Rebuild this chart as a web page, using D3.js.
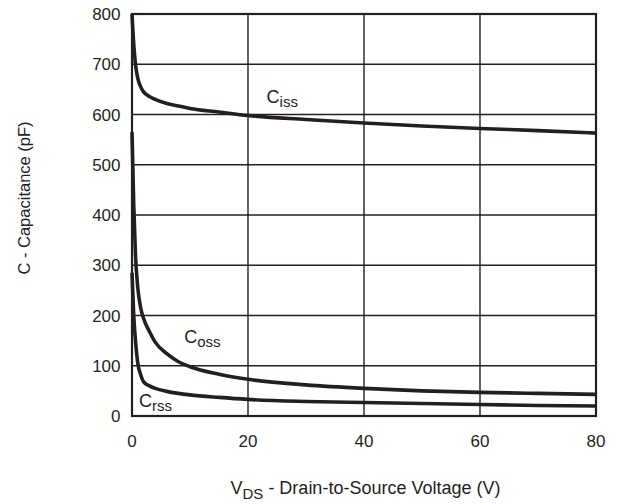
<!DOCTYPE html>
<html>
<head>
<meta charset="utf-8">
<script src="https://cdn.jsdelivr.net/npm/d3@7"></script>
<style>
  body { margin: 0; background: #fff; }
  text { font-family: "Liberation Sans", Arial, sans-serif; fill: #231f20; }
</style>
</head>
<body>
<svg id="chart" width="622" height="504"></svg>
<script>
// data
const vds = [0, 0.3, 0.6, 1, 1.5, 2, 3, 4, 6, 8, 10, 15, 20, 30, 40, 50, 60, 70, 80];
const ciss = [800, 740, 700, 672, 655, 645, 636, 630, 622, 617, 612, 605, 598, 590, 583, 577, 572, 568, 563];
const coss = [565, 420, 320, 255, 215, 194, 168, 147, 124, 108, 98, 83, 73, 62, 55, 50, 47, 45, 43];
const crss = [285, 200, 150, 105, 82, 68, 60, 55, 49, 45, 42, 37, 33, 29, 27, 25, 23, 21, 20];
const xTicks = [0, 20, 40, 60, 80];
const yTicks = [0, 100, 200, 300, 400, 500, 600, 700, 800];

const svg = d3.select("#chart");
const margin = { top: 14, left: 132, right: 26, bottom: 88 };
const width = 622, height = 504;

const x = d3.scaleLinear().domain([0, 80]).range([margin.left, width - margin.right]);
const y = d3.scaleLinear().domain([0, 800]).range([height - margin.bottom, margin.top]);

// grid
svg.append("g")
  .selectAll("line.v")
  .data(xTicks)
  .enter()
  .append("line")
  .attr("x1", (d) => x(d)).attr("x2", (d) => x(d))
  .attr("y1", y(0)).attr("y2", y(800))
  .attr("stroke", "#231f20").attr("stroke-width", 1.4);

svg.append("g")
  .selectAll("line.h")
  .data(yTicks)
  .enter()
  .append("line")
  .attr("x1", x(0)).attr("x2", x(80))
  .attr("y1", (d) => y(d)).attr("y2", (d) => y(d))
  .attr("stroke", "#231f20").attr("stroke-width", 1.4);

// frame
svg.append("rect")
  .attr("x", x(0)).attr("y", y(800))
  .attr("width", x(80) - x(0)).attr("height", y(0) - y(800))
  .attr("fill", "none").attr("stroke", "#231f20").attr("stroke-width", 2.2);

// tick labels
svg.append("g")
  .selectAll("text")
  .data(xTicks)
  .enter()
  .append("text")
  .attr("x", (d) => x(d)).attr("y", y(0) + 31)
  .attr("text-anchor", "middle")
  .attr("font-size", 17)
  .text((d) => d);

svg.append("g")
  .selectAll("text")
  .data(yTicks)
  .enter()
  .append("text")
  .attr("x", x(0) - 11.5).attr("y", (d) => y(d) + 6)
  .attr("text-anchor", "end")
  .attr("font-size", 17)
  .text((d) => d);

// curves
svg.append("clipPath").attr("id", "plotClip")
  .append("rect")
  .attr("x", x(0) - 2).attr("y", y(800))
  .attr("width", x(80) - x(0) + 2).attr("height", y(0) - y(800));

const line = d3.line()
  .x((d) => x(d[0]))
  .y((d) => y(d[1]))
  .curve(d3.curveMonotoneX);

[ciss, coss, crss].forEach((series) => {
  svg.append("path")
    .datum(vds.map((v, i) => [v, series[i]]))
    .attr("d", line)
    .attr("clip-path", "url(#plotClip)")
    .attr("fill", "none")
    .attr("stroke", "#231f20")
    .attr("stroke-width", 3.6)
    .attr("stroke-linejoin", "round");
});

// curve labels
const labels = [
  { main: "C", sub: "iss", v: 23.2, c: 623 },
  { main: "C", sub: "oss", v: 9, c: 145 },
  { main: "C", sub: "rss", v: 1.2, c: 18 },
];
labels.forEach((d) => {
  const t = svg.append("text")
    .attr("x", x(d.v)).attr("y", y(d.c))
    .attr("font-size", 18);
  t.append("tspan").text(d.main);
  t.append("tspan").attr("dy", 4).attr("font-size", 15).text(d.sub);
});

// axis titles
const xt = svg.append("text")
  .attr("x", 365.5).attr("y", 494)
  .attr("text-anchor", "middle")
  .attr("font-size", 18);
xt.append("tspan").text("V");
xt.append("tspan").attr("dy", 5).attr("font-size", 15).text("DS");
xt.append("tspan").attr("dy", -5).text(" - Drain-to-Source Voltage (V)");

svg.append("text")
  .attr("transform", "translate(30, 198) rotate(-90)")
  .attr("text-anchor", "middle")
  .attr("font-size", 16.5)
  .text("C - Capacitance (pF)");
</script>
</body>
</html>
